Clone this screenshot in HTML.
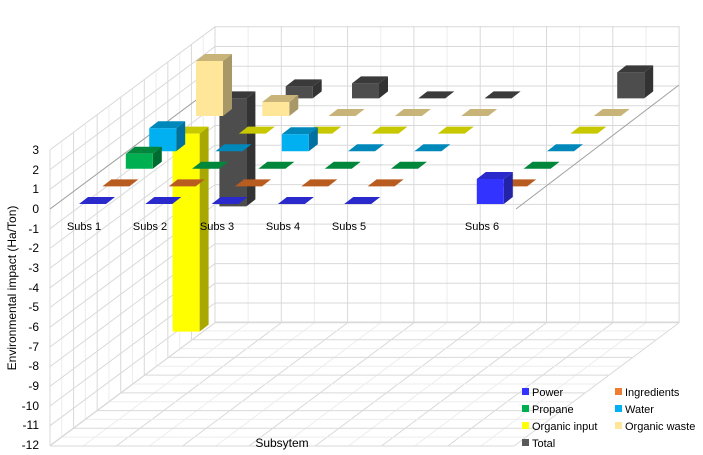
<!DOCTYPE html>
<html><head><meta charset="utf-8"><style>
html,body{margin:0;padding:0;background:#fff;}
svg{display:block;font-family:"Liberation Sans",sans-serif;}
</style></head><body>
<svg id="c" width="703" height="455" viewBox="0 0 703 455" xmlns="http://www.w3.org/2000/svg">
<g id="grid"></g>
<g id="bars"></g>
<g font-size="12" fill="#000" text-anchor="end">
<text x="39" y="154">3</text><text x="39" y="174">2</text><text x="39" y="193">1</text><text x="39" y="213">0</text>
<text x="39" y="233">-1</text><text x="39" y="252">-2</text><text x="39" y="272">-3</text><text x="39" y="292">-4</text>
<text x="39" y="311">-5</text><text x="39" y="331">-6</text><text x="39" y="351">-7</text><text x="39" y="370">-8</text>
<text x="39" y="390">-9</text><text x="39" y="410">-10</text><text x="39" y="429">-11</text><text x="39" y="449">-12</text>
</g>
<text x="0" y="0" font-size="12" text-anchor="middle" transform="translate(16,288) rotate(-90)">Environmental impact (Ha/Ton)</text>
<g font-size="11" text-anchor="middle">
<text x="84" y="230">Subs 1</text><text x="150" y="230">Subs 2</text><text x="217" y="230">Subs 3</text>
<text x="283" y="230">Subs 4</text><text x="349" y="230">Subs 5</text><text x="482" y="230">Subs 6</text>
</g>
<text x="282" y="447" font-size="12" text-anchor="middle">Subsytem</text>
<g font-size="11">
<rect x="522" y="388" width="7" height="7" fill="#3333ff"/><text x="532" y="396">Power</text>
<rect x="615" y="388" width="7" height="7" fill="#ed7d31"/><text x="625" y="396">Ingredients</text>
<rect x="522" y="405" width="7" height="7" fill="#00b050"/><text x="532" y="413">Propane</text>
<rect x="615" y="405" width="7" height="7" fill="#00b0f0"/><text x="625" y="413">Water</text>
<rect x="522" y="422" width="7" height="7" fill="#ffff00"/><text x="532" y="430">Organic input</text>
<rect x="615" y="422" width="7" height="7" fill="#ffe699"/><text x="625" y="430">Organic waste</text>
<rect x="522" y="439" width="7" height="7" fill="#595959"/><text x="532" y="447">Total</text>
</g>
</svg>
<script>
(function(){
var NS="http://www.w3.org/2000/svg";
function el(p,t,a){var e=document.createElementNS(NS,t);for(var k in a)e.setAttribute(k,a[k]);p.appendChild(e);return e;}
var g=document.getElementById("grid"),b=document.getElementById("bars");
function yb(v){return 86-19.73*v;} function yf(v){return 209-19.7*v;}
function L(x1,y1,x2,y2,c){el(g,"line",{x1:x1,y1:y1,x2:x2,y2:y2,stroke:c,"stroke-width":1});}
var minor="#ededed",major="#d9d9d9";
// back wall verticals
for(var k=0;k<=14;k++){var x=215+k*33.15;L(x,26,x,yb(-12),k%2?minor:major);}
// left wall depth verticals
for(var k=0;k<=14;k++){var f=k/14;var x=50+165*f;L(x,yf(3)+(yb(3)-yf(3))*f,x,yf(-12)+(yb(-12)-yf(-12))*f,k%2?minor:major);}
// floor lines
for(var k=0;k<=14;k++){var x=50+k*33.15;L(x,446,x+165,yb(-12),k%2?minor:major);}
for(var k=0;k<=14;k++){var f=k/14;L(50+165*f,446-124*f,514+165*f,446-124*f,k%2?minor:major);}
// horizontals back & left
for(var v=3;v>=-12;v--){L(215,yb(v),679,yb(v),major);L(50,yf(v),215,yb(v),major);}
L(50,yf(0),215,yb(0),"#a0a0a0");L(516,209,679,85,"#a0a0a0");
// bars
var C=[["#3333ff","#2a2acc","#2323a8"],["#ed7d31","#b85c20","#a04c18"],["#00b050","#00873c","#006b30"],["#00b0f0","#0088bb","#0070a0"],["#ffff00","#c8c800","#a8a800"],["#ffe699","#c8b478","#a89868"],["#4d4d4d","#3a3a3a","#333333"]];
var data=[[0,0,0,0,0,null,1.25],[0,0,0,0,0,null,0],[0.75,0,0,0,0,null,0],[1.15,0,0.85,0,0,null,0],[-9.9,0,0,0,0,null,0],[2.75,0.7,0,0,0,null,0],[-5.4,0.6,0.75,0,0,null,1.3]];
function P(pts,f){el(b,"polygon",{points:pts.map(function(p){return p[0].toFixed(1)+","+p[1].toFixed(1)}).join(" "),fill:f});}
for(var s=6;s>=0;s--){for(var i=6;i>=0;i--){var v=data[s][i];if(v===null)continue;
var x=79+66.3*i+23.4*s,y0=204-17.6*s,w=27,dx=9,dy=-7;
if(v===0){P([[x,y0],[x+w,y0],[x+w+dx,y0+dy],[x+dx,y0+dy]],C[s][1]);continue;}
var yt=Math.min(y0,y0-20*v),ybt=Math.max(y0,y0-20*v);
P([[x+w,yt],[x+w+dx,yt+dy],[x+w+dx,ybt+dy],[x+w,ybt]],C[s][2]);
P([[x,yt],[x+w,yt],[x+w+dx,yt+dy],[x+dx,yt+dy]],C[s][1]);
P([[x,yt],[x+w,yt],[x+w,ybt],[x,ybt]],C[s][0]);}}
})();
</script>
</body></html>
